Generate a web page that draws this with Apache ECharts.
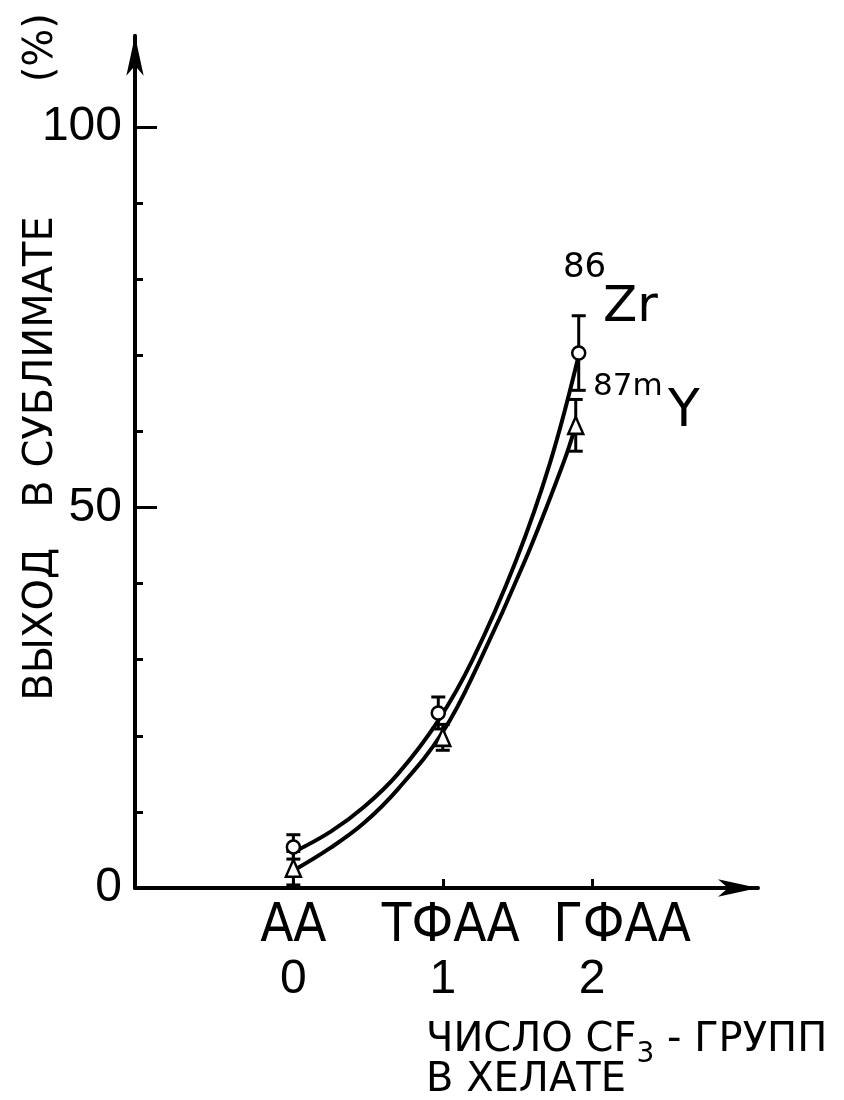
<!DOCTYPE html>
<html>
<head>
<meta charset="utf-8">
<script src="https://cdn.jsdelivr.net/npm/echarts@6/dist/echarts.min.js"></script>
<style>
html,body{margin:0;padding:0;background:#fff}
#chart{width:844px;height:1100px}
</style>
</head>
<body>
<div id="chart"></div>
<script>
// axis ticks and names
var xTicks=[0,1,2];
var xNames=['АА','ТФАА','ГФАА'];
var yMajor=[0,50,100];
var yMinor=[10,20,30,40,60,70,80,90];

// measured points: 86Zr (circles), 87mY (triangles)
var zrX=[0,0.97,1.91];
var zrY=[5.4,23,70.3];
var zrErr=[1.6,2.1,4.9];
var yX=[0,1,1.89];
var yY=[2.6,19.8,60.8];
var yErr=[2.2,1.7,3.4];

// hand drawn curves
var zrCurveX=[0,0.25,0.47,0.7,0.97,1.2,1.49,1.72,1.91];
var zrCurveY=[4.7,7.4,10.6,15,22,30,43,56,70];
var yCurveX=[0.01,0.25,0.47,0.7,1,1.24,1.55,1.81,1.89];
var yCurveY=[2.4,5.3,8.5,13,20.5,29.5,43,56,60.8];

function pairs(a,b){
    return a.map(function(v,i){return [v,b[i]];});
}

function errorBars(xs,ys,es){
    return {
        type:'custom',
        z:3,
        silent:true,
        encode:{x:0,y:1},
        data:xs.map(function(x,i){return [x,ys[i],es[i]];}),
        renderItem:function(params,api){
            var x=api.value(0),y=api.value(1),e=api.value(2);
            var top=api.coord([x,y+e]);
            var bot=api.coord([x,y-e]);
            var w=7;
            var st={stroke:'#000',lineWidth:3};
            return {type:'group',children:[
                {type:'line',shape:{x1:top[0],y1:top[1],x2:bot[0],y2:bot[1]},style:st},
                {type:'line',shape:{x1:top[0]-w,y1:top[1],x2:top[0]+w,y2:top[1]},style:st},
                {type:'line',shape:{x1:bot[0]-w,y1:bot[1],x2:bot[0]+w,y2:bot[1]},style:st}
            ]};
        }
    };
}

function curve(xs,ys){
    return {
        type:'line',
        z:2,
        smooth:0.4,
        showSymbol:false,
        silent:true,
        data:pairs(xs,ys),
        lineStyle:{color:'#000',width:4}
    };
}

function points(xs,ys,symbol,size,label){
    return {
        type:'scatter',
        z:4,
        symbol:symbol,
        symbolSize:size,
        data:pairs(xs,ys),
        itemStyle:{color:'#fff',borderColor:'#000',borderWidth:2.5,opacity:1},
        label:label
    };
}

var black='#000';
var digitFont='Liberation Sans';
var nameFont='DejaVu Sans Condensed';
var chart=echarts.init(document.getElementById('chart'));
chart.setOption({
    backgroundColor:'#fff',
    animation:false,
    title:{
        text:'{a|ЧИСЛО CF}{s|3}{a| - ГРУПП}\n{a|В ХЕЛАТЕ}',
        left:426,
        top:1021,
        padding:0,
        textStyle:{
            fontFamily:'DejaVu Sans',fontSize:40,fontWeight:'normal',lineHeight:40,color:black,
            rich:{
                a:{fontFamily:'DejaVu Sans',fontSize:40,lineHeight:40,color:black},
                s:{fontFamily:'DejaVu Sans',fontSize:28,lineHeight:40,color:black,padding:[28,0,0,0]}
            }
        }
    },
    grid:{left:135,right:86,top:35.7,bottom:212,containLabel:false,outerBoundsMode:'none'},
    xAxis:{
        type:'value',
        min:-1.06,
        max:3.11,
        axisLine:{onZero:false,symbol:['none','arrow'],symbolSize:[13,40],lineStyle:{color:black,width:4}},
        axisTick:{inside:true,length:9,customValues:xTicks,lineStyle:{color:black,width:3}},
        axisLabel:{
            customValues:xTicks,
            hideOverlap:false,
            margin:12,
            color:black,
            formatter:function(v){
                var i=xTicks.indexOf(v);
                return '{n'+i+'|'+xNames[i]+'}\n{d|'+v+'}';
            },
            rich:{
                n0:{fontFamily:nameFont,fontSize:54,lineHeight:54,color:black},
                n1:{fontFamily:nameFont,fontSize:54,lineHeight:54,color:black,width:122,align:'left'},
                n2:{fontFamily:nameFont,fontSize:54,lineHeight:54,color:black,width:78,align:'left'},
                d:{fontFamily:digitFont,fontSize:48,lineHeight:52,color:black}
            }
        },
        splitLine:{show:false}
    },
    yAxis:[{
        type:'value',
        position:'left',
        min:0,
        max:112,
        axisLine:{show:true,onZero:false,symbol:['none','arrow'],symbolSize:[13,40],lineStyle:{color:black,width:4}},
        axisTick:{show:true,inside:true,length:22,customValues:yMajor,lineStyle:{color:black,width:3}},
        axisLabel:{customValues:yMajor,margin:13,color:black,fontFamily:digitFont,fontSize:48},
        splitLine:{show:false},
        name:'{a|ВЫХОД}{b|В СУБЛИМАТЕ}{c|(%)}',
        nameLocation:'middle',
        nameRotate:90,
        nameGap:73,
        nameMoveOverlap:false,
        nameTextStyle:{
            padding:[0,0,0,210],
            rich:{
                a:{fontFamily:'DejaVu Sans',fontSize:40,lineHeight:40,color:black},
                b:{fontFamily:'DejaVu Sans',fontSize:40,lineHeight:40,color:black,padding:[0,0,0,40]},
                c:{fontFamily:'DejaVu Sans',fontSize:40,lineHeight:40,color:black,padding:[0,0,0,134]}
            }
        }
    },{
        type:'value',
        position:'left',
        offset:0,
        min:0,
        max:112,
        axisLine:{show:false,onZero:false},
        axisTick:{show:true,inside:true,length:8,customValues:yMinor,lineStyle:{color:black,width:3}},
        axisLabel:{show:false},
        splitLine:{show:false}
    }],
    series:[
        curve(zrCurveX,zrCurveY),
        curve(yCurveX,yCurveY),
        errorBars(zrX,zrY,zrErr),
        errorBars(yX,yY,yErr),
        points(zrX,zrY,'circle',13,{
            show:true,
            position:[-8,-95],
            align:'left',
            verticalAlign:'top',
            formatter:function(p){return p.dataIndex===zrX.length-1?'{a|86}\n{b|Zr}':'';},
            rich:{
                a:{fontFamily:'DejaVu Sans',fontSize:34,lineHeight:36,color:black},
                b:{fontFamily:'DejaVu Sans',fontSize:50,lineHeight:44,color:black,padding:[0,0,0,40]}
            }
        }),
        points(yX,yY,'triangle',[15,17],{
            show:true,
            position:[26,-41],
            align:'left',
            verticalAlign:'top',
            formatter:function(p){return p.dataIndex===yX.length-1?'{a|87m}\n{b|Y}':'';},
            rich:{
                a:{fontFamily:'DejaVu Sans',fontSize:31,lineHeight:24,color:black},
                b:{fontFamily:'DejaVu Sans',fontSize:52,lineHeight:28,color:black,padding:[0,0,0,75]}
            }
        })
    ]
});
</script>
</body>
</html>
